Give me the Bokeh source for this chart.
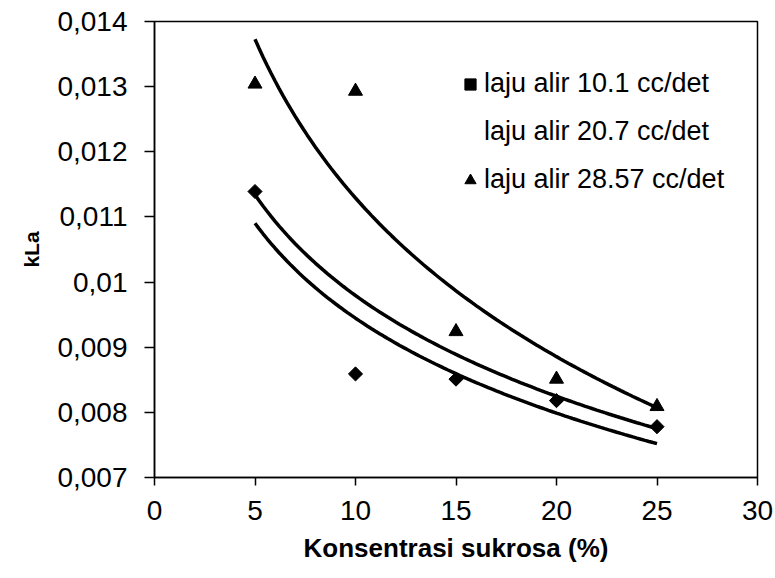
import numpy as np
from bokeh.plotting import figure
from bokeh.models import Range1d, FixedTicker, Legend, LegendItem
from bokeh.embed import file_html
from bokeh.resources import INLINE

# Sucrose concentration (%) and measured kLa per air flow rate
conc = [5, 10, 15, 20, 25]
kla_101 = [0.01139, 0.00859, 0.00851, 0.00818, 0.00778]
kla_2857 = [0.01304, 0.01293, 0.00924, 0.00851, 0.00809]

# 20.7 cc/det series: only its logarithmic trend is shown, given by its end values
trend_207_x = [5, 25]
trend_207_y = [0.01134, 0.00775]

series_names = ["laju alir 10.1 cc/det", "laju alir 20.7 cc/det", "laju alir 28.57 cc/det"]

x_ticks = [0, 5, 10, 15, 20, 25, 30]
y_ticks = [0.007, 0.008, 0.009, 0.010, 0.011, 0.012, 0.013, 0.014]
y_tick_labels = ["0,007", "0,008", "0,009", "0,01", "0,011", "0,012", "0,013", "0,014"]

FONT = "Liberation Sans"


def log_trend(xs, ys):
    """Least-squares fit y = a + b*ln(x), as a spreadsheet logarithmic trendline."""
    b, a = np.polyfit(np.log(xs), ys, 1)
    return a, b


def log_through(xs, ys):
    b = (ys[1] - ys[0]) / (np.log(xs[1]) - np.log(xs[0]))
    a = ys[0] - b * np.log(xs[0])
    return a, b


p = figure(
    width=775, height=578,
    x_range=Range1d(0, 30), y_range=Range1d(0.007, 0.014),
    min_border_left=154, min_border_right=18, min_border_top=21, min_border_bottom=101,
    output_backend="svg", toolbar_location=None,
    background_fill_color="white", border_fill_color="white",
)
p.grid.visible = False
p.outline_line_color = "black"
p.outline_line_width = 1.5

# trendlines
xs = np.linspace(min(conc), max(conc), 101)
coef = [log_trend(conc, kla_101), log_through(trend_207_x, trend_207_y), log_trend(conc, kla_2857)]
for a, b in coef:
    p.line(xs, a + b * np.log(xs), line_color="black", line_width=3.5)

# measured points
r_101 = p.scatter(conc, kla_101, marker="square", angle=np.pi / 4, size=10,
                  fill_color="black", line_color="black")
r_207 = p.scatter([], [], marker="square", size=10, fill_alpha=0, line_alpha=0)
r_2857 = p.scatter(conc, kla_2857, marker="triangle", size=14,
                   fill_color="black", line_color="black")

legend = Legend(
    items=[LegendItem(label=series_names[0], renderers=[r_101]),
           LegendItem(label=series_names[1], renderers=[r_207]),
           LegendItem(label=series_names[2], renderers=[r_2857])],
    location=(292, 272),
    label_text_font=FONT, label_text_font_size="27px", label_text_color="black",
    glyph_width=28, glyph_height=30, label_height=30, label_standoff=0,
    spacing=17, padding=10, margin=0,
    border_line_alpha=0, background_fill_alpha=0,
)
p.add_layout(legend, "center")

# axes
for ax in (p.xaxis[0], p.yaxis[0]):
    ax.axis_line_color = "black"
    ax.axis_line_width = 1.5
    ax.major_tick_line_color = "black"
    ax.major_tick_line_width = 1.5
    ax.major_tick_in = 0
    ax.minor_tick_line_color = None
    ax.major_label_text_font = FONT
    ax.major_label_text_font_size = "28px"
    ax.major_label_text_color = "black"

p.xaxis.ticker = FixedTicker(ticks=x_ticks)
p.xaxis.major_tick_out = 8
p.xaxis.major_label_standoff = 15
p.xaxis.axis_label = "Konsentrasi sukrosa (%)"
p.xaxis.axis_label_text_font = FONT
p.xaxis.axis_label_text_font_style = "bold"
p.xaxis.axis_label_text_font_size = "26px"
p.xaxis.axis_label_text_color = "black"
p.xaxis.axis_label_standoff = 10

p.yaxis.ticker = FixedTicker(ticks=y_ticks)
p.yaxis.major_label_overrides = {t: s for t, s in zip(y_ticks, y_tick_labels)}
p.yaxis.major_tick_out = 10
p.yaxis.major_label_standoff = 17
p.yaxis.axis_label = "kLa"
p.yaxis.axis_label_text_font = FONT
p.yaxis.axis_label_text_font_style = "bold"
p.yaxis.axis_label_text_font_size = "21px"
p.yaxis.axis_label_text_color = "black"
p.yaxis.axis_label_standoff = 11

open("out.html", "w").write(file_html(p, INLINE))
